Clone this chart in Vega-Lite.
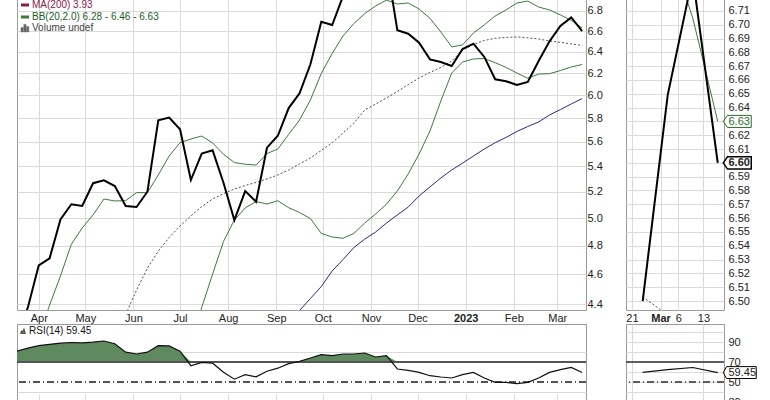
{
  "$schema": "https://vega.github.io/schema/vega-lite/v6.json",
  "background": "white",
  "padding": {"left": 16, "top": -2, "right": 0, "bottom": 0},
  "autosize": {"type": "pad"},
  "config": {
    "view": {"stroke": "#9a9a9a", "strokeWidth": 1},
    "font": "Liberation Sans",
    "axis": {"labelFont": "Liberation Sans", "labelFontSize": 11, "labelColor": "#222222", "gridColor": "#dadada", "gridWidth": 1, "domain": false, "ticks": false, "labelOverlap": false, "labelFlush": false},
    "legend": {"labelFont": "Liberation Sans"}
  },
  "datasets": {
    "w": [
      {"d": "2022-03-18", "p": 4.2, "r": 80.8},
      {"d": "2022-03-25", "p": 4.38, "r": 83.8},
      {"d": "2022-04-01", "p": 4.662, "u": 4.2, "r": 86.3},
      {"d": "2022-04-08", "p": 4.711, "u": 4.395, "r": 87.7},
      {"d": "2022-04-15", "p": 4.991, "u": 4.589, "r": 88.8},
      {"d": "2022-04-22", "p": 5.104, "u": 4.81, "r": 89.5},
      {"d": "2022-04-29", "p": 5.091, "u": 4.928, "r": 89.1},
      {"d": "2022-05-06", "p": 5.266, "u": 5.024, "r": 89.8},
      {"d": "2022-05-13", "p": 5.289, "u": 5.144, "r": 91},
      {"d": "2022-05-20", "p": 5.244, "u": 5.129, "m": 4.17, "r": 88.3},
      {"d": "2022-05-27", "p": 5.091, "u": 5.132, "m": 4.334, "r": 79.8},
      {"d": "2022-06-03", "p": 5.083, "u": 5.193, "m": 4.494, "r": 78},
      {"d": "2022-06-10", "p": 5.2, "u": 5.193, "m": 4.643, "r": 79.8},
      {"d": "2022-06-17", "p": 5.781, "u": 5.331, "m": 4.762, "r": 86.3},
      {"d": "2022-06-24", "p": 5.804, "u": 5.483, "m": 4.858, "r": 86.1},
      {"d": "2022-07-01", "p": 5.705, "u": 5.592, "m": 4.942, "r": 80.8},
      {"d": "2022-07-08", "p": 5.291, "u": 5.623, "m": 5.016, "l": 4.14, "r": 66.3},
      {"d": "2022-07-15", "p": 5.502, "u": 5.648, "m": 5.087, "l": 4.38, "r": 69.6},
      {"d": "2022-07-22", "p": 5.529, "u": 5.59, "m": 5.144, "l": 4.602, "r": 68.8},
      {"d": "2022-07-29", "p": 5.27, "u": 5.497, "m": 5.185, "l": 4.83, "r": 59.8},
      {"d": "2022-08-05", "p": 4.986, "u": 5.43, "m": 5.221, "l": 4.986, "r": 52.8},
      {"d": "2022-08-12", "p": 5.205, "u": 5.416, "m": 5.248, "l": 5.076, "r": 57.3},
      {"d": "2022-08-19", "p": 5.123, "u": 5.41, "m": 5.272, "l": 5.125, "r": 55.1},
      {"d": "2022-08-26", "p": 5.551, "u": 5.503, "m": 5.299, "l": 5.106, "r": 60.8},
      {"d": "2022-09-02", "p": 5.65, "u": 5.54, "m": 5.331, "l": 5.131, "r": 63.8},
      {"d": "2022-09-09", "p": 5.887, "u": 5.662, "m": 5.37, "l": 5.078, "r": 68.3},
      {"d": "2022-09-16", "p": 6.018, "u": 5.784, "m": 5.419, "l": 5.042, "n": 4.36, "r": 70.6},
      {"d": "2022-09-23", "p": 6.282, "u": 5.958, "m": 5.467, "l": 4.997, "n": 4.438, "r": 74},
      {"d": "2022-09-30", "p": 6.691, "u": 6.197, "m": 5.528, "l": 4.888, "n": 4.518, "r": 77.3},
      {"d": "2022-10-07", "p": 6.659, "u": 6.384, "m": 5.592, "l": 4.862, "n": 4.623, "r": 76.3},
      {"d": "2022-10-14", "p": 6.95, "u": 6.552, "m": 5.673, "l": 4.853, "n": 4.702, "r": 78},
      {"d": "2022-10-21", "p": 7.25, "u": 6.674, "m": 5.758, "l": 4.888, "n": 4.787, "r": 78},
      {"d": "2022-10-28", "p": 7.4, "u": 6.773, "m": 5.87, "l": 4.964, "n": 4.847, "r": 79},
      {"d": "2022-11-04", "p": 7.35, "u": 6.85, "m": 5.923, "l": 5.031, "n": 4.898, "r": 75},
      {"d": "2022-11-11", "p": 7.3, "u": 6.91, "m": 5.976, "l": 5.105, "n": 4.964, "r": 76.3},
      {"d": "2022-11-18", "p": 6.607, "u": 6.87, "m": 6.034, "l": 5.206, "n": 5.024, "r": 63},
      {"d": "2022-11-25", "p": 6.574, "u": 6.88, "m": 6.096, "l": 5.339, "n": 5.083, "r": 61.6},
      {"d": "2022-12-02", "p": 6.487, "u": 6.819, "m": 6.155, "l": 5.499, "n": 5.167, "r": 59.6},
      {"d": "2022-12-09", "p": 6.328, "u": 6.725, "m": 6.206, "l": 5.69, "n": 5.237, "r": 56.3},
      {"d": "2022-12-16", "p": 6.304, "u": 6.591, "m": 6.253, "l": 5.949, "n": 5.307, "r": 55},
      {"d": "2022-12-23", "p": 6.266, "u": 6.446, "m": 6.313, "l": 6.201, "n": 5.37, "r": 54},
      {"d": "2022-12-30", "p": 6.426, "u": 6.465, "m": 6.417, "l": 6.304, "n": 5.425, "r": 57.3},
      {"d": "2023-01-06", "p": 6.477, "u": 6.581, "m": 6.469, "l": 6.332, "n": 5.483, "r": 59.6},
      {"d": "2023-01-13", "p": 6.351, "u": 6.66, "m": 6.508, "l": 6.336, "n": 5.54, "r": 54},
      {"d": "2023-01-20", "p": 6.144, "u": 6.749, "m": 6.529, "l": 6.297, "n": 5.592, "r": 49.6},
      {"d": "2023-01-27", "p": 6.126, "u": 6.809, "m": 6.537, "l": 6.253, "n": 5.636, "r": 49.6},
      {"d": "2023-02-03", "p": 6.092, "u": 6.88, "m": 6.542, "l": 6.201, "n": 5.686, "r": 48.3},
      {"d": "2023-02-10", "p": 6.119, "u": 6.9, "m": 6.534, "l": 6.153, "n": 5.728, "r": 49.6},
      {"d": "2023-02-17", "p": 6.313, "u": 6.839, "m": 6.522, "l": 6.192, "n": 5.767, "r": 54},
      {"d": "2023-02-24", "p": 6.5, "u": 6.809, "m": 6.503, "l": 6.195, "n": 5.827, "r": 59.6},
      {"d": "2023-03-03", "p": 6.649, "u": 6.76, "m": 6.49, "l": 6.224, "n": 5.874, "r": 62.4},
      {"d": "2023-03-10", "p": 6.735, "u": 6.705, "m": 6.475, "l": 6.257, "n": 5.923, "r": 64.5},
      {"d": "2023-03-17", "p": 6.6, "u": 6.63, "m": 6.46, "l": 6.28, "n": 5.97, "r": 59.45}
    ]
  },
  "bounds": "flush",
  "columns": 2,
  "spacing": {"row": 14, "column": 40},
  "resolve": {"scale": {"color": "independent"}, "legend": {"color": "independent"}},
  "concat": [
    {
      "width": 569,
      "height": 311,
      "data": {"name": "w"},
      "encoding": {
        "x": {
          "field": "d", "type": "temporal", "title": null,
          "scale": {"domain": ["2022-03-18T00:00:00", "2023-03-19T12:00:00"]},
          "axis": {
            "grid": true,
            "tickCount": {"interval": "month", "step": 1},
            "labelExpr": "month(datum.value) == 0 ? timeFormat(datum.value, '%Y') : timeFormat(datum.value, '%b')",
            "labelFontWeight": {"condition": {"test": "month(datum.value) == 0", "value": "bold"}, "value": "normal"},
            "labelPadding": 2, "labelOverlap": false
          }
        }
      },
      "layer": [
        {
          "mark": {"type": "line", "clip": true, "strokeWidth": 1, "strokeDash": [2, 2], "color": "#3d5a3d"},
          "encoding": {
            "y": {
              "field": "m", "type": "quantitative", "title": null,
              "scale": {"type": "log", "domain": [4.363, 6.921], "nice": false},
              "axis": {"orient": "right", "values": [4.4, 4.6, 4.8, 5.0, 5.2, 5.4, 5.6, 5.8, 6.0, 6.2, 6.4, 6.6, 6.8], "format": ".1f", "grid": true, "labelPadding": 1, "labelOverlap": false}
            }
          }
        },
        {
          "mark": {"type": "line", "clip": true, "strokeWidth": 1, "color": "#3b7b3b"},
          "encoding": {"y": {"field": "l", "type": "quantitative", "title": null}}
        },
        {
          "mark": {"type": "line", "clip": true, "strokeWidth": 1},
          "encoding": {
            "y": {"field": "u", "type": "quantitative", "title": null},
            "color": {
              "datum": "BB(20,2.0) 6.28 - 6.46 - 6.63",
              "type": "nominal",
              "scale": {"domain": ["MA(200) 3.93", "BB(20,2.0) 6.28 - 6.46 - 6.63", "Volume undef"], "range": ["#8b1a4b", "#3b7b3b", "#666666"]},
              "legend": {
                "orient": "none", "legendX": 3, "legendY": 1, "title": null,
                "symbolType": "stroke", "symbolSize": 64, "symbolStrokeWidth": 3,
                "labelFontSize": 10, "labelOffset": 2, "rowPadding": 0, "padding": 0,
                "encode": {
                  "labels": {"update": {"fill": {"signal": "datum.value === 'MA(200) 3.93' ? '#8b1a4b' : datum.value === 'Volume undef' ? '#444444' : '#1d5e1d'"}}},
                  "symbols": {"update": {
                    "shape": {"signal": "datum.value === 'Volume undef' ? 'M-1,1V-0.1H-0.45V1ZM-0.3,1V-0.9H0.25V1ZM0.4,1V-0.4H0.95V1Z' : 'stroke'"},
                    "fill": {"signal": "datum.value === 'Volume undef' ? '#666666' : 'transparent'"},
                    "stroke": {"signal": "datum.value === 'MA(200) 3.93' ? '#8b1a4b' : datum.value === 'Volume undef' ? '#666666' : '#1d5e1d'"},
                    "strokeWidth": {"signal": "datum.value === 'Volume undef' ? 0.5 : 3"}
                  }}
                }
              }
            }
          }
        },
        {
          "mark": {"type": "line", "clip": true, "strokeWidth": 1, "color": "#2b2b7d"},
          "encoding": {"y": {"field": "n", "type": "quantitative", "title": null}}
        },
        {
          "mark": {"type": "line", "clip": true, "strokeWidth": 2, "color": "#000000"},
          "encoding": {"y": {"field": "p", "type": "quantitative", "title": null}}
        }
      ]
    },
    {
      "width": 98,
      "height": 311,
      "data": {"name": "w"},
      "transform": [{"filter": {"field": "d", "gte": {"year": 2023, "month": 2, "date": 23}}}],
      "encoding": {
        "x": {
          "field": "d", "type": "temporal", "title": null,
          "scale": {"domain": ["2023-02-19T08:00:00", "2023-03-18T18:00:00"]},
          "axis": {
            "grid": true,
            "values": [{"year": 2023, "month": 2, "date": 21}, {"year": 2023, "month": 3, "date": 1}, {"year": 2023, "month": 3, "date": 6}, {"year": 2023, "month": 3, "date": 13}],
            "labelExpr": "date(datum.value) == 1 ? timeFormat(datum.value, '%b') : timeFormat(datum.value, '%-d')",
            "labelFontWeight": {"condition": {"test": "date(datum.value) == 1", "value": "bold"}, "value": "normal"},
            "labelPadding": 2, "labelOverlap": false
          }
        },
        "y": {
          "type": "quantitative", "title": null,
          "scale": {"domain": [6.4935, 6.7186], "nice": false, "zero": false},
          "axis": {
            "orient": "right", "grid": true, "format": ".2f", "labelPadding": 4, "labelOverlap": false,
            "values": [6.5, 6.51, 6.52, 6.53, 6.54, 6.55, 6.56, 6.57, 6.58, 6.59, 6.6, 6.61, 6.62, 6.63, 6.64, 6.65, 6.66, 6.67, 6.68, 6.69, 6.7, 6.71],
            "labelColor": {"condition": {"test": "abs(datum.value - 6.63) < 0.001", "value": "#2d6b2d"}, "value": "#222222"},
            "labelFontWeight": {"condition": {"test": "abs(datum.value - 6.6) < 0.001", "value": "bold"}, "value": "normal"}
          }
        }
      },
      "layer": [
        {
          "mark": {"type": "line", "clip": true, "strokeWidth": 1, "strokeDash": [2, 2], "color": "#3d5a3d"},
          "encoding": {"y": {"field": "m"}}
        },
        {
          "mark": {"type": "line", "clip": true, "strokeWidth": 1, "color": "#3b7b3b"},
          "encoding": {"y": {"field": "u"}}
        },
        {
          "mark": {"type": "line", "clip": true, "strokeWidth": 2, "color": "#000000"},
          "encoding": {"y": {"field": "p"}}
        },
        {
          "transform": [{"filter": {"field": "d", "gte": {"year": 2023, "month": 3, "date": 16}}}],
          "mark": {"type": "point", "shape": "M-1,0L-0.7,-0.43L1,-0.43L1,0.43L-0.7,0.43Z", "size": 784, "filled": false, "stroke": "#2d6b2d", "strokeWidth": 1, "opacity": 1, "clip": false, "xOffset": 19.5},
          "encoding": {"y": {"datum": 6.63}}
        },
        {
          "transform": [{"filter": {"field": "d", "gte": {"year": 2023, "month": 3, "date": 16}}}],
          "mark": {"type": "point", "shape": "M-1,0L-0.7,-0.43L1,-0.43L1,0.43L-0.7,0.43Z", "size": 784, "filled": false, "stroke": "#000000", "strokeWidth": 1.5, "opacity": 1, "clip": false, "xOffset": 19.5},
          "encoding": {"y": {"datum": 6.6}}
        }
      ]
    },
    {
      "width": 569,
      "height": 108,
      "data": {"name": "w"},
      "resolve": {"scale": {"y": "independent"}},
      "layer": [
        {
          "mark": {"type": "area", "color": "#5f8a5f", "opacity": 1, "clip": true},
          "encoding": {
            "x": {"field": "d", "type": "temporal", "title": null, "scale": {"domain": ["2022-03-18T00:00:00", "2023-03-19T12:00:00"]}, "axis": {"grid": true, "tickCount": {"interval": "month", "step": 1}, "labels": false}},
            "y": {"field": "r", "type": "quantitative", "title": null, "scale": {"domain": [70, 108], "range": [38, 0], "clamp": true}, "axis": null},
            "y2": {"datum": 70}
          }
        },
        {
          "layer": [
            {
              "mark": {"type": "rule", "color": "#555555", "strokeWidth": 1},
              "encoding": {
                "y": {
                  "datum": 70, "type": "quantitative", "title": null,
                  "scale": {"domain": [0, 108], "nice": false},
                  "axis": {"orient": "right", "values": [0, 10, 20, 30, 40, 50, 60, 70, 80, 90, 100], "labelExpr": "datum.value % 20 == 10 ? datum.label : ''", "grid": true, "labelPadding": 2, "labelOverlap": false}
                }
              }
            },
            {
              "mark": {"type": "rule", "color": "#555555", "strokeWidth": 1, "strokeDash": [7, 3, 1, 3]},
              "encoding": {"y": {"datum": 50, "type": "quantitative"}}
            },
            {
              "mark": {"type": "line", "clip": true, "strokeWidth": 1.2},
              "encoding": {
                "x": {"field": "d", "type": "temporal"},
                "y": {"field": "r", "type": "quantitative", "title": null},
                "color": {
                  "datum": "RSI(14) 59.45", "type": "nominal",
                  "scale": {"range": ["#111111"]},
                  "legend": {
                    "orient": "none", "legendX": 1, "legendY": 2, "title": null,
                    "symbolSize": 25, "labelFontSize": 10, "labelOffset": 1, "padding": 0,
                    "labelColor": "#111111",
                    "encode": {"symbols": {"update": {
                      "shape": {"value": "M-1,1L-0.6,-0.2L-0.2,0.3L0.4,-1L1,1Z"},
                      "fill": {"value": "#666666"},
                      "stroke": {"value": "#444444"},
                      "strokeWidth": {"value": 0.5}
                    }}}
                  }
                }
              }
            }
          ]
        }
      ]
    },
    {
      "width": 98,
      "height": 108,
      "data": {"name": "w"},
      "transform": [{"filter": {"field": "d", "gte": {"year": 2023, "month": 2, "date": 23}}}],
      "encoding": {
        "y": {
          "type": "quantitative", "title": null,
          "scale": {"domain": [0, 108], "nice": false},
          "axis": {
            "orient": "right", "values": [0, 10, 20, 30, 40, 50, 60, 70, 80, 90, 100, 59.45],
            "labelExpr": "datum.value == 59.45 ? '59.45' : (datum.value % 20 == 10 ? datum.label : '')",
            "grid": true, "labelPadding": 4, "labelOverlap": false,
            "gridColor": {"condition": {"test": "datum.value == 59.45", "value": "transparent"}, "value": "#dadada"}
          }
        }
      },
      "layer": [
        {
          "mark": {"type": "rule", "color": "#555555", "strokeWidth": 1},
          "encoding": {"y": {"datum": 70}}
        },
        {
          "mark": {"type": "rule", "color": "#555555", "strokeWidth": 1, "strokeDash": [7, 3, 1, 3]},
          "encoding": {"y": {"datum": 50}}
        },
        {
          "mark": {"type": "line", "clip": true, "strokeWidth": 1.2, "color": "#111111"},
          "encoding": {
            "x": {
              "field": "d", "type": "temporal", "title": null,
              "scale": {"domain": ["2023-02-19T08:00:00", "2023-03-18T18:00:00"]},
              "axis": {"grid": true, "labels": false, "values": [{"year": 2023, "month": 2, "date": 21}, {"year": 2023, "month": 3, "date": 1}, {"year": 2023, "month": 3, "date": 6}, {"year": 2023, "month": 3, "date": 13}]}
            },
            "y": {"field": "r"}
          }
        },
        {
          "transform": [{"filter": {"field": "d", "gte": {"year": 2023, "month": 3, "date": 16}}}],
          "mark": {"type": "point", "shape": "M-1,0L-0.8,-0.36L1,-0.36L1,0.36L-0.8,0.36Z", "size": 1089, "filled": false, "stroke": "#000000", "strokeWidth": 1, "opacity": 1, "clip": false, "xOffset": 22},
          "encoding": {"x": {"field": "d", "type": "temporal"}, "y": {"datum": 59.45}}
        }
      ]
    }
  ]
}
